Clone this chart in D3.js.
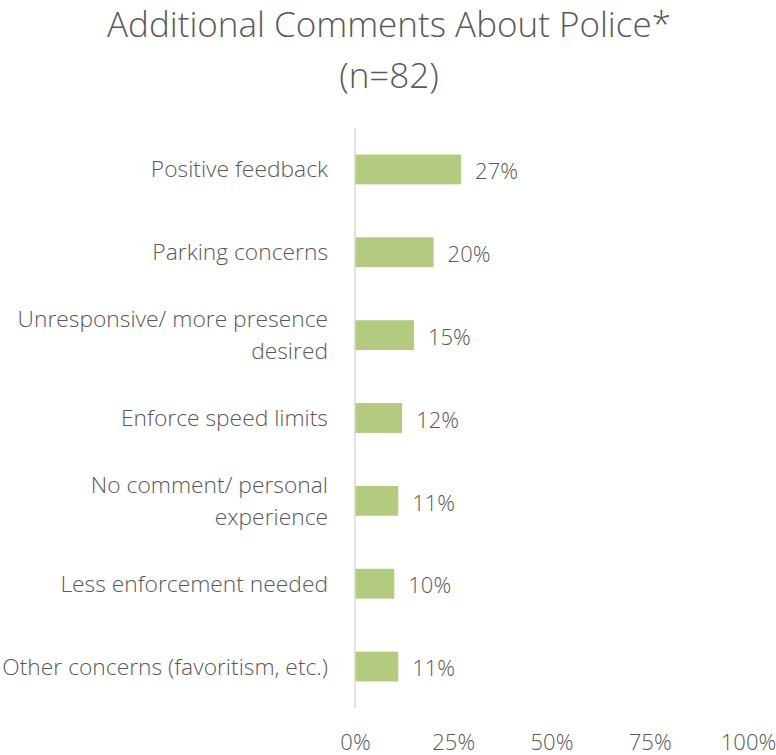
<!DOCTYPE html>
<html>
<head>
<meta charset="utf-8">
<script src="https://cdn.jsdelivr.net/npm/d3@7"></script>
<style>
  body { margin: 0; background: #fff; }
  svg text { font-family: "Open Sans", "Noto Sans", sans-serif; fill: #595959; font-weight: 300; }
</style>
</head>
<body>
<div id="chart"></div>
<script>
// --- Data ---
const categories = [
    ["Positive feedback"],
    ["Parking concerns"],
    ["Unresponsive/ more presence", "desired"],
    ["Enforce speed limits"],
    ["No comment/ personal", "experience"],
    ["Less enforcement needed"],
    ["Other concerns (favoritism, etc.)"]
];
const values = [0.27, 0.20, 0.15, 0.12, 0.11, 0.10, 0.11];
const tickValues = [0, 0.25, 0.5, 0.75, 1];
const titleLines = ["Additional Comments About Police*", "(n=82)"];

const width = 776, height = 755;
const margin = { top: 128, right: 28, bottom: 47, left: 355 };

const svg = d3.select("#chart").append("svg")
    .attr("width", width)
    .attr("height", height);

// --- Title ---
svg.append("g")
    .selectAll("text")
    .data(titleLines)
    .join("text")
    .attr("x", 389)
    .attr("y", (d, i) => 37 + i * 51)
    .attr("text-anchor", "middle")
    .attr("font-size", 35)
    .text(d => d);

// --- Scales ---
const x = d3.scaleLinear()
    .domain([0, 1])
    .range([margin.left, width - margin.right]);

const y = d3.scaleBand()
    .domain(d3.range(categories.length))
    .range([margin.top, height - margin.bottom])
    .paddingInner(0.64)
    .paddingOuter(0.32);

// --- Bars ---
svg.append("g")
    .selectAll("rect")
    .data(values)
    .join("rect")
    .attr("x", x(0))
    .attr("y", (d, i) => y(i))
    .attr("width", d => x(d) - x(0))
    .attr("height", y.bandwidth())
    .attr("fill", "#b3ca7f");

// --- Value labels ---
svg.append("g")
    .selectAll("text")
    .data(values)
    .join("text")
    .attr("x", d => x(d) + 14)
    .attr("y", (d, i) => y(i) + y.bandwidth() / 2 + 2)
    .attr("dy", "0.35em")
    .attr("font-size", 22)
    .text(d => d3.format(".0%")(d));

// --- Category labels ---
const catG = svg.append("g")
    .selectAll("text")
    .data(categories)
    .join("text")
    .attr("text-anchor", "end")
    .attr("font-size", 22.8)
    .attr("y", (d, i) => y(i) + y.bandwidth() / 2);

catG.selectAll("tspan")
    .data(d => d.map((t, j) => ({ t, j, n: d.length })))
    .join("tspan")
    .attr("x", 328)
    .attr("dy", d => d.j === 0 ? (0.35 - (d.n - 1) * 0.69) + "em" : "1.38em")
    .text(d => d.t);

// --- Axis line ---
svg.append("line")
    .attr("x1", x(0)).attr("x2", x(0))
    .attr("y1", margin.top).attr("y2", height - margin.bottom)
    .attr("stroke", "#d9d9d9")
    .attr("stroke-width", 1.5);

// --- X axis ---
const xAxis = svg.append("g")
    .attr("transform", `translate(0,${height - 5})`)
    .call(d3.axisBottom(x).tickValues(tickValues).tickFormat(d3.format(".0%")).tickSize(0));
xAxis.select(".domain").remove();
xAxis.selectAll("text")
    .attr("font-size", 22)
    .attr("dy", 0)
    .attr("y", 0)
    .attr("fill", "#595959")
    .attr("font-family", "\"Open Sans\", \"Noto Sans\", sans-serif");
</script>
</body>
</html>
